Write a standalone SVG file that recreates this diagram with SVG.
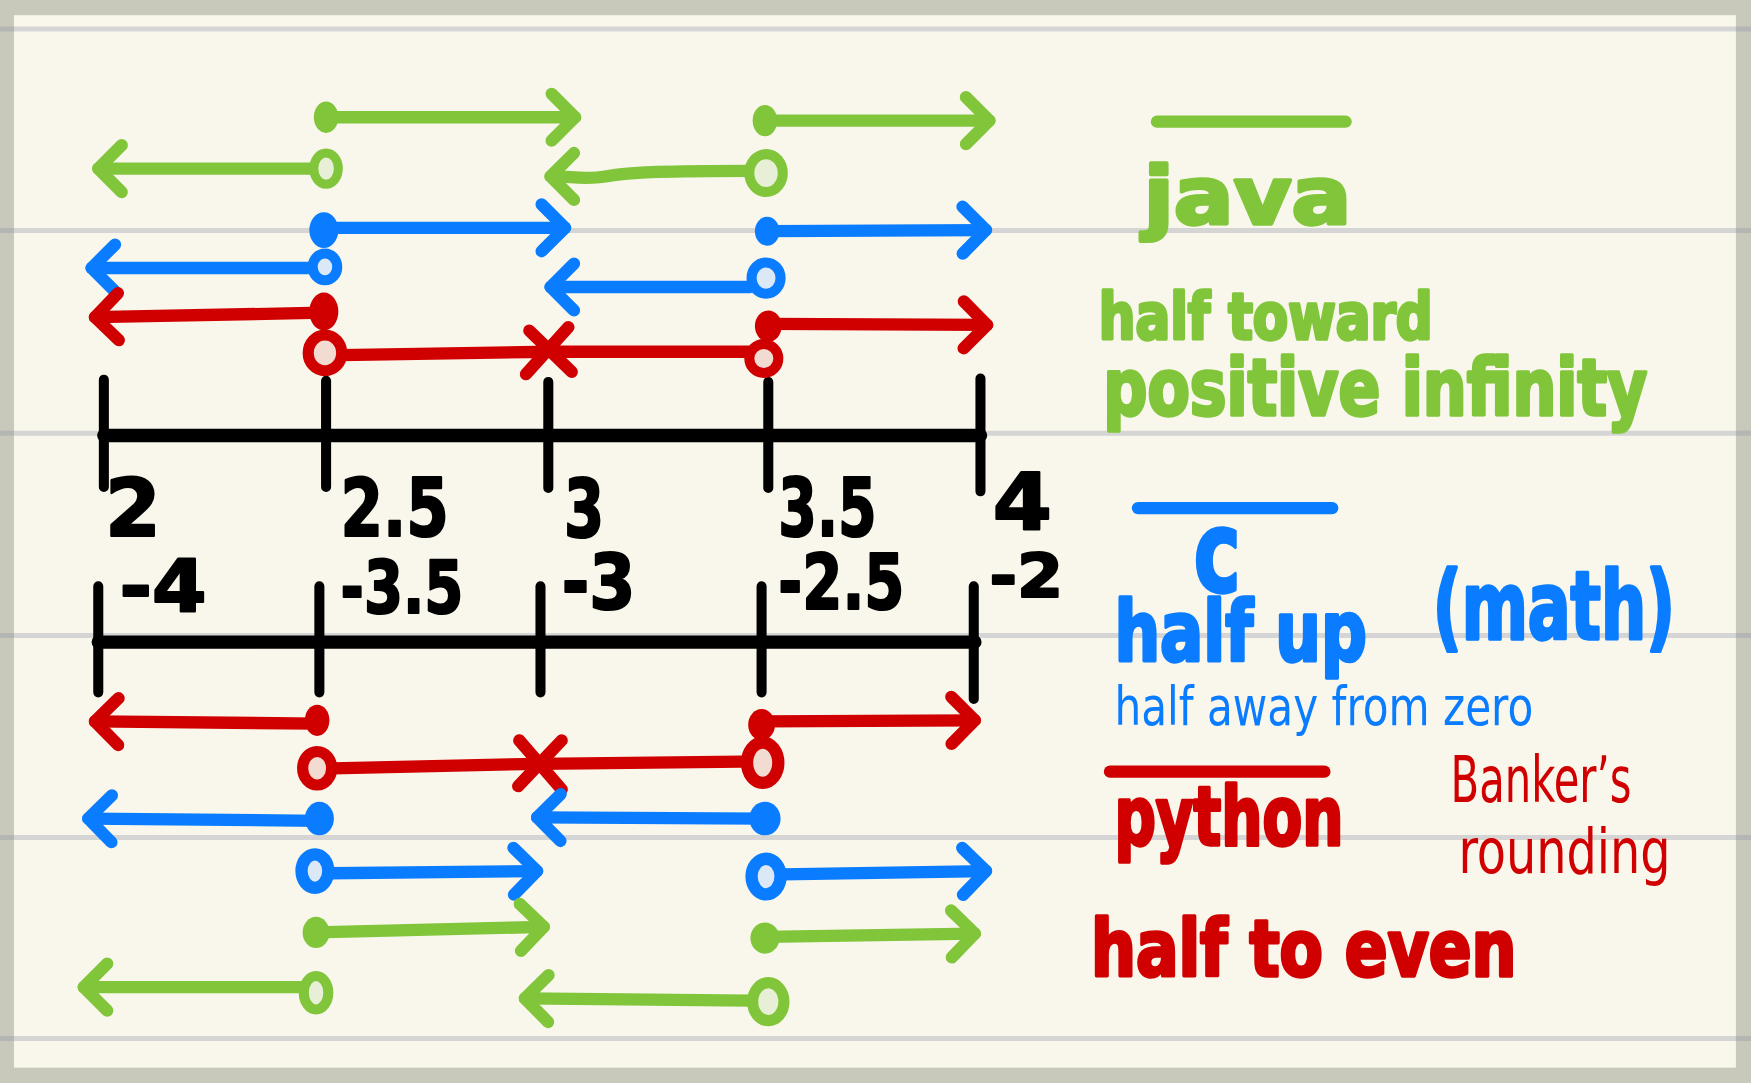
<svg xmlns="http://www.w3.org/2000/svg" width="1751" height="1083" viewBox="0 0 1751 1083">
<defs>
<style>
.ln{fill:none;stroke-width:11;stroke-linecap:round;stroke-linejoin:round}
.ax{fill:none;stroke:#000;stroke-linecap:round}
.g{stroke:#80c53a}.b{stroke:#0a7cff}.r{stroke:#d10000}
.gf{fill:#80c53a}.bf{fill:#0a7cff}.rf{fill:#d10000}
.go{fill:#e7efd6;stroke:#80c53a}.bo{fill:#dbe8f6;stroke:#0a7cff}.ro{fill:#f2dcd2;stroke:#d10000}
.num{font-family:"DejaVu Sans","Liberation Sans",sans-serif;font-weight:bold;fill:#000;stroke:#000;stroke-width:2;stroke-linejoin:round}
.hb{font-family:"DejaVu Sans Condensed","DejaVu Sans","Liberation Sans",sans-serif;font-weight:bold;stroke-width:3;stroke-linejoin:round}
.ht{font-family:"DejaVu Sans Condensed","DejaVu Sans","Liberation Sans",sans-serif;font-weight:normal}
.rule{stroke:#8e94a8;stroke-opacity:0.35;stroke-width:4.5}
</style>
<marker id="ag" markerUnits="userSpaceOnUse" orient="auto" refX="0" refY="0" markerWidth="40" markerHeight="60" viewBox="-30 -30 40 60" overflow="visible"><path d="M-21,-21 L0,0 L-21,21" class="ln g"/></marker>
<marker id="ab" markerUnits="userSpaceOnUse" orient="auto" refX="0" refY="0" markerWidth="40" markerHeight="60" viewBox="-30 -30 40 60" overflow="visible"><path d="M-21,-21 L0,0 L-21,21" class="ln b"/></marker>
<marker id="ar" markerUnits="userSpaceOnUse" orient="auto" refX="0" refY="0" markerWidth="40" markerHeight="60" viewBox="-30 -30 40 60" overflow="visible"><path d="M-21,-21 L0,0 L-21,21" class="ln r"/></marker>
</defs>
<rect width="1751" height="1083" fill="#c8c8bb"/>
<g transform="scale(1.1167)">
<g id="paper">
<rect x="12.5" y="13.6" width="1542" height="942.5" fill="#f9f7ec"/>
<path class="rule" d="M0 26H1568M0 206.5H1568M0 388H1568M0 569H1568M0 750H1568M0 930H1568"/>
</g>

<g id="axis-top">
<path class="ax" stroke-width="12" d="M93 390H878"/>
<path class="ax" stroke-width="9" d="M93 340V436M292 341V436M491 342V437M688 342V437M878 339V440"/>
<text class="num" font-size="72" x="94" y="480" textLength="50" lengthAdjust="spacingAndGlyphs">2</text>
<text class="num" font-size="72" x="305" y="480" textLength="97" lengthAdjust="spacingAndGlyphs">2.5</text>
<text class="num" font-size="72" x="505" y="481" textLength="36" lengthAdjust="spacingAndGlyphs">3</text>
<text class="num" font-size="72" x="697" y="480" textLength="88" lengthAdjust="spacingAndGlyphs">3.5</text>
<text class="num" font-size="70" x="889" y="474" textLength="53" lengthAdjust="spacingAndGlyphs">4</text>
</g>

<g id="axis-bottom">
<path class="ax" stroke-width="12" d="M88 575H873"/>
<path class="ax" stroke-width="9" d="M88 525V620M286 525V620M484 525V620M682 525V620M872 525V626"/>
<text class="num" font-size="66" x="107" y="548" textLength="78" lengthAdjust="spacingAndGlyphs">-4</text>
<text class="num" font-size="66" x="305" y="549" textLength="110" lengthAdjust="spacingAndGlyphs">-3.5</text>
<text class="num" font-size="68" x="503" y="545" textLength="66" lengthAdjust="spacingAndGlyphs">-3</text>
<text class="num" font-size="68" x="697" y="545" textLength="113" lengthAdjust="spacingAndGlyphs">-2.5</text>
<text class="num" font-size="54" x="886" y="535" textLength="66" lengthAdjust="spacingAndGlyphs">-2</text>
</g>

<g id="connectors">
<!-- top: java -->
<path class="ln g" d="M292 105L515 105" marker-end="url(#ag)"/>
<path class="ln g" d="M685 108L886 108" marker-end="url(#ag)"/>
<path class="ln g" d="M292 151L88 151" marker-end="url(#ag)"/>
<path class="ln g" d="M670 153C600 153 565 154 542 158C525 161 512 158 493 158" marker-end="url(#ag)"/>
<!-- top: c -->
<path class="ln b" d="M290 204L506 204" marker-end="url(#ab)"/>
<path class="ln b" d="M687 207L883 206" marker-end="url(#ab)"/>
<path class="ln b" d="M285 240L82 240" marker-end="url(#ab)"/>
<path class="ln b" d="M672 257L493 257" marker-end="url(#ab)"/>
<!-- top: python -->
<path class="ln r" d="M290 280L85 284" marker-end="url(#ar)"/>
<path class="ln r" d="M688 290L884 291" marker-end="url(#ar)"/>
<path class="ln r" d="M305 318L493 315L670 315"/>
<path class="ln r" d="M474 296L512 333M509 293L471 335"/>
<!-- bottom: python -->
<path class="ln r" d="M284 648L85 646" marker-end="url(#ar)"/>
<path class="ln r" d="M682 646L873 645" marker-end="url(#ar)"/>
<path class="ln r" d="M298 688L482 684L665 682"/>
<path class="ln r" d="M465 663L503 707M503 663L464 704"/>
<!-- bottom: c -->
<path class="ln b" d="M286 735L79 733" marker-end="url(#ab)"/>
<path class="ln b" d="M685 733L481 732" marker-end="url(#ab)"/>
<path class="ln b" d="M295 782L481 780" marker-end="url(#ab)"/>
<path class="ln b" d="M700 783L883 780" marker-end="url(#ab)"/>
<!-- bottom: java -->
<path class="ln g" d="M283 835L487 830" marker-end="url(#ag)"/>
<path class="ln g" d="M685 839L873 836" marker-end="url(#ag)"/>
<path class="ln g" d="M272 884L75 884" marker-end="url(#ag)"/>
<path class="ln g" d="M672 896L470 894" marker-end="url(#ag)"/>
</g>

<g id="endpoints">
<ellipse class="gf" cx="292" cy="105" rx="11" ry="14"/>
<ellipse class="gf" cx="685" cy="108" rx="11" ry="14"/>
<ellipse class="go" stroke-width="8" cx="292" cy="151" rx="11" ry="14"/>
<ellipse class="go" stroke-width="9" cx="686" cy="155" rx="15" ry="17"/>
<ellipse class="bf" cx="290" cy="206" rx="13" ry="16"/>
<ellipse class="bf" cx="687" cy="207" rx="11" ry="13"/>
<ellipse class="bo" stroke-width="9" cx="291" cy="239" rx="11" ry="12"/>
<ellipse class="bo" stroke-width="9" cx="686" cy="249" rx="13" ry="14"/>
<ellipse class="rf" cx="290" cy="279" rx="13" ry="17"/>
<ellipse class="rf" cx="688" cy="292" rx="12" ry="14"/>
<ellipse class="ro" stroke-width="10" cx="291" cy="316" rx="15" ry="16"/>
<ellipse class="ro" stroke-width="9" cx="684" cy="321" rx="13" ry="13"/>

<ellipse class="rf" cx="284" cy="645" rx="11" ry="14"/>
<ellipse class="rf" cx="682" cy="649" rx="12" ry="14"/>
<ellipse class="ro" stroke-width="10" cx="284" cy="688" rx="13" ry="15"/>
<ellipse class="ro" stroke-width="11" cx="683" cy="683" rx="14" ry="18"/>
<ellipse class="bf" cx="286" cy="733" rx="13" ry="15"/>
<ellipse class="bf" cx="685" cy="733" rx="14" ry="15"/>
<ellipse class="bo" stroke-width="11" cx="282" cy="780" rx="12" ry="15"/>
<ellipse class="bo" stroke-width="11" cx="686" cy="785" rx="13" ry="16"/>
<ellipse class="gf" cx="283" cy="835" rx="12" ry="14"/>
<ellipse class="gf" cx="685" cy="840" rx="13" ry="14"/>
<ellipse class="go" stroke-width="9" cx="283" cy="889" rx="11" ry="15"/>
<ellipse class="go" stroke-width="10" cx="688" cy="897" rx="14" ry="17"/>
</g>

<g id="legend-java">
<path class="ln g" stroke-width="12" d="M1036 109H1205"/>
<text class="hb gf g" font-size="72" x="1024" y="201" textLength="186" lengthAdjust="spacingAndGlyphs">java</text>
<text class="hb gf g" font-size="58" x="984" y="304" textLength="299" lengthAdjust="spacingAndGlyphs">half toward</text>
<text class="hb gf g" font-size="70" x="988" y="372" textLength="487" lengthAdjust="spacingAndGlyphs">positive infinity</text>
</g>

<g id="legend-c">
<path class="ln b" stroke-width="12" d="M1019 455H1193"/>
<text class="hb bf b" font-size="100" x="1069" y="529" textLength="42" lengthAdjust="spacingAndGlyphs">c</text>
<text class="hb bf b" font-size="75" x="998" y="592" textLength="226" lengthAdjust="spacingAndGlyphs">half up</text>
<text class="hb bf b" font-size="85" x="1283" y="572" textLength="217" lengthAdjust="spacingAndGlyphs">(math)</text>
<text class="ht bf" font-size="48" x="998" y="649" textLength="375" lengthAdjust="spacingAndGlyphs">half away from zero</text>
</g>

<g id="legend-python">
<path class="ln r" stroke-width="12" d="M994 691H1186"/>
<text class="hb rf r" font-size="74" x="998" y="757" textLength="205" lengthAdjust="spacingAndGlyphs">python</text>
<text class="ht rf" font-size="58" x="1299" y="718" textLength="162" lengthAdjust="spacingAndGlyphs">Banker’s</text>
<text class="ht rf" font-size="56" x="1306" y="782" textLength="190" lengthAdjust="spacingAndGlyphs">rounding</text>
<text class="hb rf r" font-size="70" x="977" y="874" textLength="381" lengthAdjust="spacingAndGlyphs">half to even</text>
</g>
</g>
</svg>
